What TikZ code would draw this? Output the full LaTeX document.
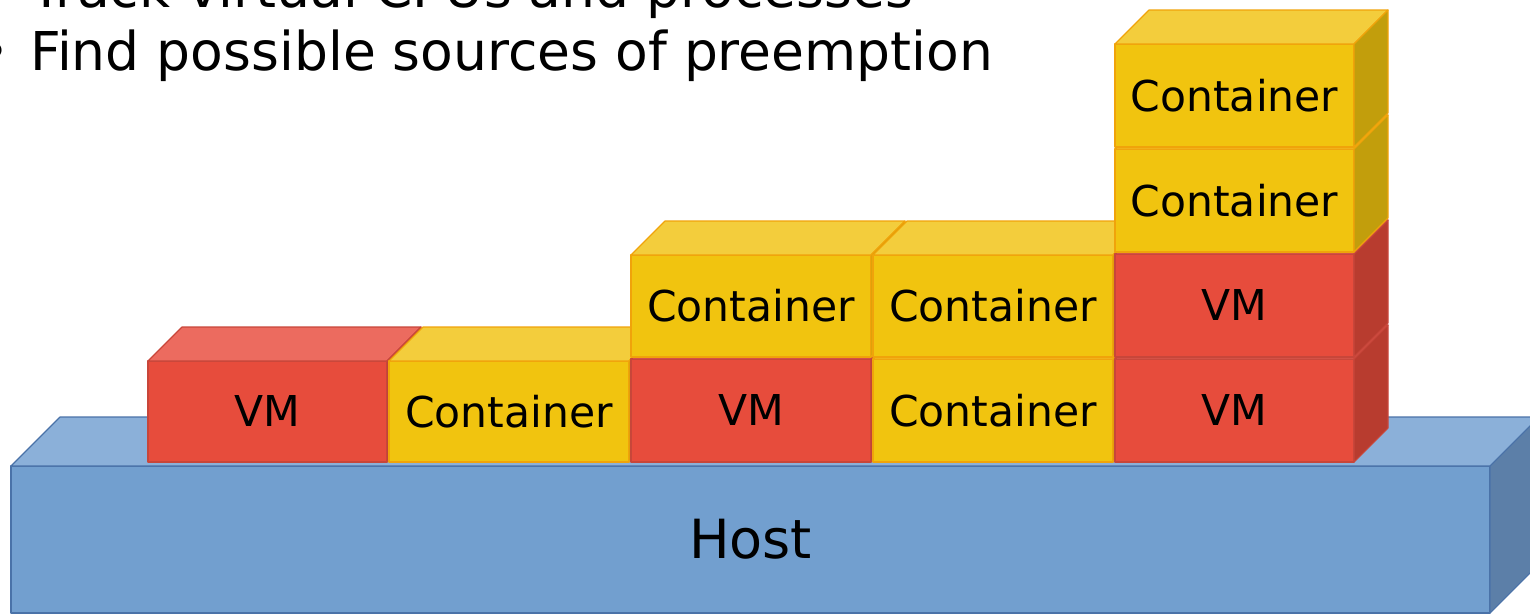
\documentclass[tikz,border=0pt]{standalone}
\usepackage{fontspec}
\setmainfont{DejaVu Sans}

% face colours of the three kinds of blocks
\definecolor{vmfront}{HTML}{E74C3C}
\definecolor{vmtop}{HTML}{EC6B5F}
\definecolor{vmside}{HTML}{B83C2F}
\definecolor{vmedge}{HTML}{C8463A}
\definecolor{ctfront}{HTML}{F1C40F}
\definecolor{cttop}{HTML}{F3CD3C}
\definecolor{ctside}{HTML}{C29E0C}
\definecolor{ctedge}{HTML}{F0A30A}
\definecolor{hostfront}{HTML}{729FCF}
\definecolor{hosttop}{HTML}{8BB0D9}
\definecolor{hostside}{HTML}{5C7FA8}
\definecolor{hostedge}{HTML}{4A72A8}

\tikzset{
  face/.style={line width=1.1pt, line join=round},
  blocklabel/.style={font=\fontsize{42.5}{50}\selectfont, inner sep=0pt},
  hostlabel/.style={font=\fontsize{54}{64}\selectfont, inner sep=0pt},
  bullettext/.style={font=\fontsize{53.5}{63}\selectfont, inner sep=0pt, anchor=base west},
}

% #1 node name, #2 left, #3 top, #4 right, #5 bottom, #6 depth, #7 kind, #8 label style, #9 text
\newcommand\drawcube[9]{%
  \filldraw[face, fill=#7front, draw=#7edge] (#2,#3) rectangle (#4,#5);
  \filldraw[face, fill=#7top, draw=#7edge]
    (#2,#3) -- (#2+#6,#3-#6) -- (#4+#6,#3-#6) -- (#4,#3) -- cycle;
  \filldraw[face, fill=#7side, draw=#7edge]
    (#4,#3) -- (#4+#6,#3-#6) -- (#4+#6,#5-#6) -- (#4,#5) -- cycle;
  \node[#8] (#1) at ({(#2+#4)/2},{(#3+#5)/2}) {#9};
}

\begin{document}
\begin{tikzpicture}[x=1pt, y=-1pt]
  \useasboundingbox (0,0) rectangle (1530,613);
  \clip (0,0) rectangle (1530,613);

  % bullet list above the stack
  \node[bullettext] (b1) at (-22,7) {•};
  \node[bullettext] (t1) at (30,7) {Track virtual CPUs and processes};
  \node[bullettext] (b2) at (-22,70) {•};
  \node[bullettext] (t2) at (30,70) {Find possible sources of preemption};

  % the host slab
  \drawcube{host}{11}{466}{1490}{613}{49}{host}{hostlabel}{Host}

  % column 1
  \drawcube{vm1}{148}{361}{387}{462}{34}{vm}{blocklabel}{VM}
  % column 2
  \drawcube{ct2}{389}{361}{629}{462}{34}{ct}{blocklabel}{Container}
  % column 3
  \drawcube{vm3}{631}{359}{871}{462}{34}{vm}{blocklabel}{VM}
  \drawcube{ct3}{631}{255}{871}{357}{34}{ct}{blocklabel}{Container}
  % column 4
  \drawcube{ct4a}{873}{359}{1113}{462}{34}{ct}{blocklabel}{Container}
  \drawcube{ct4b}{873}{255}{1113}{357}{34}{ct}{blocklabel}{Container}
  % column 5
  \drawcube{vm5a}{1115}{359}{1354}{462}{34}{vm}{blocklabel}{VM}
  \drawcube{vm5b}{1115}{254}{1354}{357}{34}{vm}{blocklabel}{VM}
  \drawcube{ct5a}{1115}{149}{1354}{252}{34}{ct}{blocklabel}{Container}
  \drawcube{ct5b}{1115}{44}{1354}{147}{34}{ct}{blocklabel}{Container}
\end{tikzpicture}
\end{document}
